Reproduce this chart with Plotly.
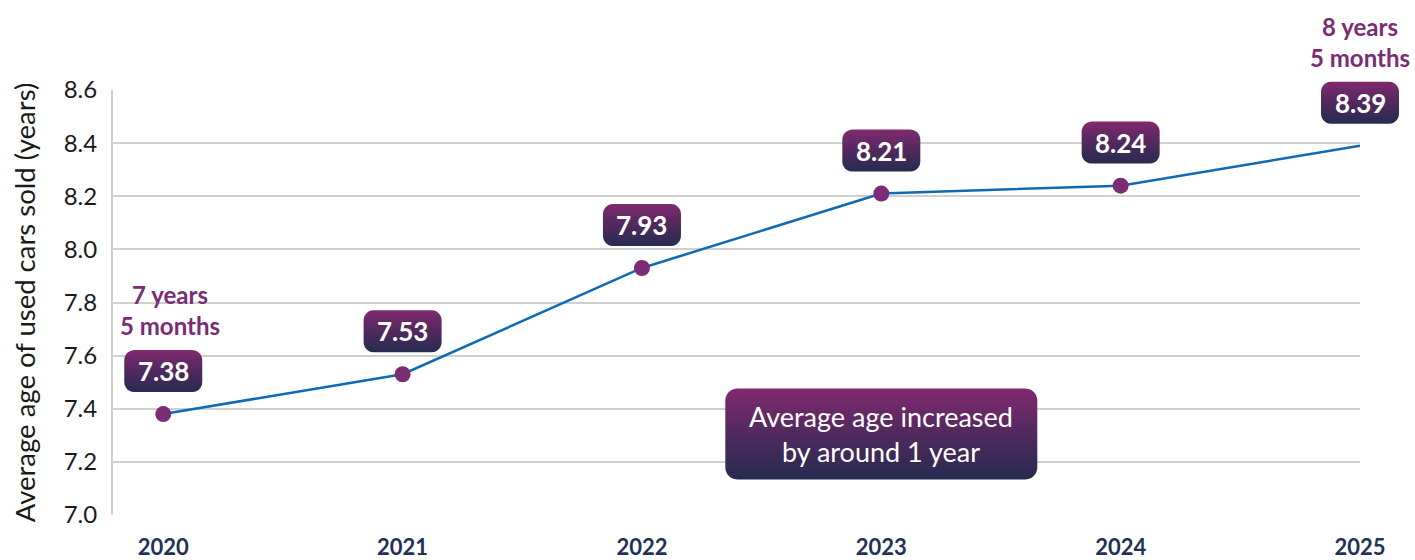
import math
import plotly.graph_objects as go

# ---- data ----
years = [2020, 2021, 2022, 2023, 2024, 2025]
avg_age = [7.38, 7.53, 7.93, 8.21, 8.24, 8.39]
value_labels = ["7.38", "7.53", "7.93", "8.21", "8.24", "8.39"]
marker_years = [2020, 2021, 2022, 2023, 2024]
callout_years = [2020, 2025]
callout_texts = ["7 years<br>5 months", "8 years<br>5 months"]
y_ticks = [7.0, 7.2, 7.4, 7.6, 7.8, 8.0, 8.2, 8.4, 8.6]
summary_text = "Average age increased<br>by around 1 year"
summary_year = 2023
summary_level = 7.305
y_title = "Average age of used cars sold (years)"

# ---- layout geometry (pixels) ----
W, H = 1415, 560
PL, PR, PT, PB = 113, 1360, 90, 515
x_range = [2019.79, 2025]
y_range = [7.0, 8.6]

FONT = "Lato"
PURPLE = "#7b2c74"
NAVY = "#1f3154"
LINE_BLUE = "#0e6ab3"
GRID = "#d0d0d0"
GRAD = [[0, "#272b4f"], [0.55, "#55295f"], [1, "#80296f"]]

# pixel scale of the data axes
ppx = (PR - PL) / (x_range[1] - x_range[0])
ppy = (PB - PT) / (y_range[1] - y_range[0])

# a full-canvas overlay axis pair in the same data units (for label boxes)
x2_range = [x_range[0] - PL / ppx, x_range[1] + (W - PR) / ppx]
y2_range = [y_range[0] - (H - PB) / ppy, y_range[1] + PT / ppy]


def rounded_box(cx, cy, w, h, r, n=6):
    """Rounded rectangle centred on (cx, cy) in data units; w, h, r in px."""
    hw, hh = w / 2, h / 2
    corners = [(hw - r, hh - r, 0), (-hw + r, hh - r, 90),
               (-hw + r, -hh + r, 180), (hw - r, -hh + r, 270)]
    xs, ys = [], []
    for ox, oy, a0 in corners:
        for k in range(n + 1):
            a = math.radians(a0 + 90 * k / n)
            xs.append(cx + (ox + r * math.cos(a)) / ppx)
            ys.append(cy + (oy + r * math.sin(a)) / ppy)
    xs.append(xs[0])
    ys.append(ys[0])
    return xs, ys


fig = go.Figure()

# main line
fig.add_trace(go.Scatter(
    x=years, y=avg_age, mode="lines",
    line=dict(color=LINE_BLUE, width=2.5),
    hoverinfo="skip", showlegend=False, cliponaxis=False,
))
# point markers
fig.add_trace(go.Scatter(
    x=marker_years, y=avg_age[:len(marker_years)], mode="markers",
    marker=dict(color=PURPLE, size=16),
    hoverinfo="skip", showlegend=False, cliponaxis=False,
))

BOX_OFF = 43  # px above the point
for yr, val, lab in zip(years, avg_age, value_labels):
    bx, by = rounded_box(yr, val + BOX_OFF / ppy, 78, 42, 10)
    fig.add_trace(go.Scatter(
        x=bx, y=by, xaxis="x2", yaxis="y2", mode="none", fill="toself",
        fillgradient=dict(type="vertical", colorscale=GRAD),
        hoverinfo="skip", showlegend=False,
    ))
    fig.add_annotation(
        x=yr, y=val, xref="x", yref="y", yshift=BOX_OFF, text=f"<b>{lab}</b>",
        showarrow=False, font=dict(family=FONT, size=26, color="white"),
    )

# summary callout box
sx, sy = rounded_box(summary_year, summary_level, 312, 91, 12)
fig.add_trace(go.Scatter(
    x=sx, y=sy, xaxis="x2", yaxis="y2", mode="none", fill="toself",
    fillgradient=dict(type="vertical", colorscale=GRAD),
    hoverinfo="skip", showlegend=False,
))
fig.add_annotation(
    x=summary_year, y=summary_level, xref="x2", yref="y2", text=summary_text,
    showarrow=False, font=dict(family=FONT, size=27, color="white"),
)

# year/month callouts above the first and last points
for yr, txt in zip(callout_years, callout_texts):
    val = avg_age[years.index(yr)]
    fig.add_annotation(
        x=yr, y=val, xref="x", yref="y", yshift=104,
        xshift=7 if yr == years[0] else 0,
        text=f"<b>{txt}</b>", showarrow=False,
        font=dict(family=FONT, size=24, color=PURPLE),
    )

fig.update_layout(
    width=W, height=H,
    margin=dict(l=0, r=0, t=0, b=0, pad=0, autoexpand=False),
    paper_bgcolor="white", plot_bgcolor="rgba(0,0,0,0)",
    font=dict(family=FONT),
    xaxis=dict(
        domain=[PL / W, PR / W], range=x_range, tickvals=years,
        ticktext=[f"<b>{y}</b>" for y in years],
        tickfont=dict(family=FONT, size=22, color=NAVY),
        showgrid=False, zeroline=False, showline=False, automargin=False,
        ticks="", ticklabelstandoff=17, anchor="y",
    ),
    yaxis=dict(
        domain=[1 - PB / H, 1 - PT / H], range=y_range, tickvals=y_ticks,
        ticktext=[f"{v:.1f}" for v in y_ticks],
        tickfont=dict(family=FONT, size=24, color="#1a1a1a"),
        showgrid=True, gridcolor=GRID, gridwidth=2,
        showline=True, linecolor=GRID, linewidth=2, automargin=False,
        zeroline=False, ticks="", ticklabelstandoff=9, anchor="x",
        title=dict(text=y_title, font=dict(family=FONT, size=27.5, color="#1a1a1a"),
                   standoff=20),
    ),
    xaxis2=dict(domain=[0, 1], range=x2_range, visible=False,
                fixedrange=True, anchor="y2", automargin=False),
    yaxis2=dict(domain=[0, 1], range=y2_range, visible=False,
                fixedrange=True, anchor="x2", automargin=False),
)

fig.write_html("out.html")
